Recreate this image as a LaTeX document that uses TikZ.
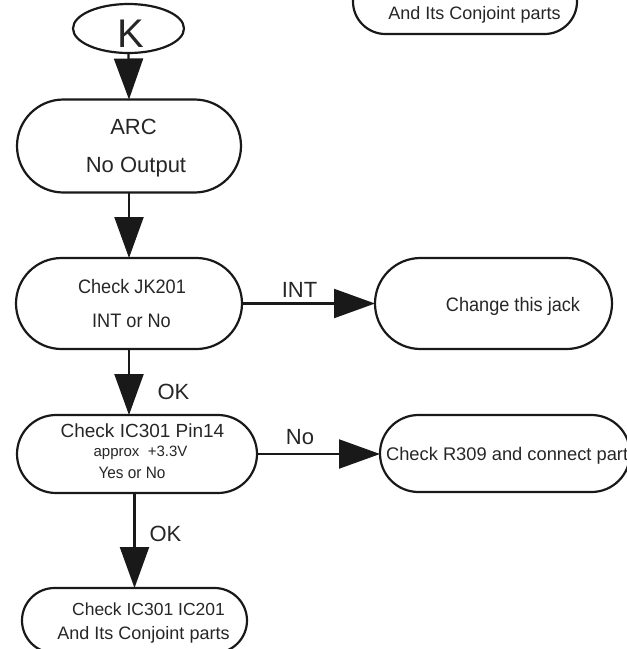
\documentclass[tikz,border=0pt]{standalone}
\usepackage{fontspec}
\setmainfont{Liberation Sans}
\newfontfamily\condfont{Liberation Sans}[FakeStretch=0.93]
\usetikzlibrary{shapes.geometric,arrows.meta}
\newcommand{\fs}[1]{\fontsize{#1}{#1}\selectfont}
\begin{document}
\begin{tikzpicture}[x=1pt,y=-1pt,
  line width=2.2pt,
  box/.style={draw=black!90, line width=2.2pt, inner sep=0pt, outer sep=0pt},
  arr/.style={draw=black!90, line width=2.2pt, -{Triangle[length=41pt,width=29pt]}},
  txt/.style={inner sep=0pt, anchor=base, text=black!85}]
\useasboundingbox (0,0) rectangle (627,649);
\clip (0,0) rectangle (627,649);
% boxes
\node[box, ellipse, minimum width=111pt, minimum height=49pt] (k) at (128.5,28.5) {};
\node[box, rounded corners=46.5pt, minimum width=224pt, minimum height=93pt] (arc) at (129,146) {};
\node[box, rounded corners=45.5pt, minimum width=226pt, minimum height=91pt] (jk) at (129,303.5) {};
\node[box, rounded corners=45.5pt, minimum width=237pt, minimum height=91pt] (chg) at (493.5,303.5) {};
\node[box, rounded corners=39pt, minimum width=240pt, minimum height=78pt] (ic) at (137,454) {};
\node[box, rounded corners=38.5pt, minimum width=250pt, minimum height=77pt] (r309) at (505,453.5) {};
\node[box, rounded corners=32.5pt, minimum width=225pt, minimum height=65pt] (bot) at (134.5,620.5) {};
\node[box, rounded corners=32.5pt, minimum width=224pt, minimum height=65pt] (topr) at (465,1.5) {};
% texts
\node[txt, font=\fs{40}] (tk) at (131,47) {K};
\node[txt, font=\fs{22}] (t1) at (133.5,134) {ARC};
\node[txt, font=\fs{22}] (t2) at (136,172) {No Output};
\node[txt, font=\condfont\fs{19.5}] (t3) at (132,293) {Check JK201};
\node[txt, font=\condfont\fs{19.5}] (t4) at (131.5,327) {INT or No};
\node[txt, font=\condfont\fs{19.5}] (t5) at (513,311) {Change this jack};
\node[txt, font=\fs{19}] (t6) at (142.5,437) {Check IC301 Pin14};
\node[txt, font=\fs{15}] (t7) at (140.5,456) {approx\ \ +3.3V};
\node[txt, font=\condfont\fs{16.5}] (t8) at (132,478) {Yes or No};
\node[txt, font=\fs{18.3}, anchor=base west] (t9) at (385,460) {Check R309 and connect part};
\node[txt, font=\fs{17.5}] (t10) at (148.5,615) {Check IC301 IC201};
\node[txt, font=\fs{18}] (t11) at (143.5,639) {And Its Conjoint parts};
\node[txt, font=\fs{18}] (t12) at (474.5,19.3) {And Its Conjoint parts};
% labels
\node[txt, font=\fs{22}] (lint) at (299.5,297) {INT};
\node[txt, font=\fs{22}] (lok1) at (173.5,399) {OK};
\node[txt, font=\fs{22}] (lno) at (300,444) {No};
\node[txt, font=\fs{22}] (lok2) at (165.5,541) {OK};
% connectors
\draw[arr] (k.south) -- (arc.north);
\draw[arr] (arc.south) -- (jk.north);
\draw[arr] (jk.east) -- (chg.west);
\draw[arr] (jk.south) -- (jk.south |- ic.north);
\draw[arr] (ic.east) -- (ic.east -| r309.west);
\draw[arr] (bot.north |- ic.south) -- (bot.north);
\end{tikzpicture}
\end{document}
